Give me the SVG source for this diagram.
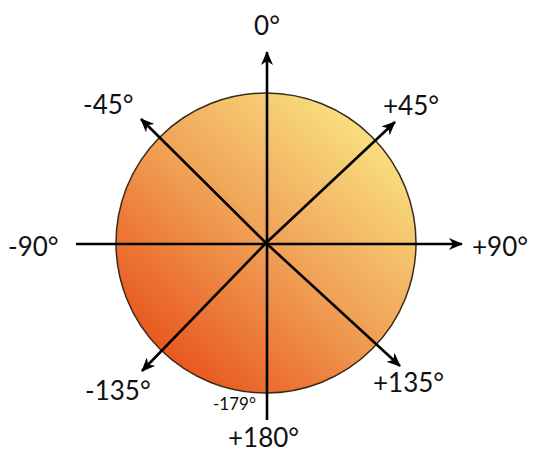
<svg xmlns="http://www.w3.org/2000/svg" width="537" height="455" viewBox="0 0 537 455">
<defs>
<linearGradient id="g" x1="0.85" y1="0.1" x2="0.15" y2="0.9">
<stop offset="0" stop-color="#f9e282"/>
<stop offset="0.5" stop-color="#f0a055"/>
<stop offset="1" stop-color="#e8541c"/>
</linearGradient>
<marker id="ah" viewBox="0 0 14 12" refX="13" refY="6" markerWidth="14" markerHeight="12" markerUnits="userSpaceOnUse" orient="auto">
<path d="M0,0 L14,6 L0,12 L4,6 z" fill="#000"/>
</marker>
<style>
.ax{stroke:#000;stroke-width:2.6;fill:none}
.lb{font-family:Lato,"Open Sans","Liberation Sans",sans-serif;fill:#111;font-size:26px}
.sm{font-family:Lato,"Open Sans","Liberation Sans",sans-serif;fill:#111;font-size:17px}
</style>
</defs>
<g id="circle">
<circle cx="266" cy="243" r="150" fill="url(#g)" stroke="#3a2a1a" stroke-width="1.5"/>
</g>
<g id="connectors">
<line class="ax" x1="267" y1="420" x2="267" y2="52" marker-end="url(#ah)"/>
<line class="ax" x1="76" y1="244" x2="462" y2="244" marker-end="url(#ah)"/>
<line class="ax" x1="266" y1="243" x2="395" y2="122" marker-end="url(#ah)"/>
<line class="ax" x1="266" y1="243" x2="141" y2="119" marker-end="url(#ah)"/>
<line class="ax" x1="266" y1="243" x2="400" y2="366" marker-end="url(#ah)"/>
<line class="ax" x1="266" y1="243" x2="142" y2="371" marker-end="url(#ah)"/>
</g>
<g id="labels">
<text class="lb" x="267" y="35" text-anchor="middle">0°</text>
<text class="lb" x="83" y="114">-45°</text>
<text class="lb" x="383" y="115">+45°</text>
<text class="lb" x="8" y="256">-90°</text>
<text class="lb" x="472" y="256">+90°</text>
<text class="lb" x="85" y="400">-135°</text>
<text class="lb" x="373" y="392">+135°</text>
<text class="lb" x="228" y="447">+180°</text>
<text class="sm" x="213" y="410">-179°</text>
</g>
</svg>
